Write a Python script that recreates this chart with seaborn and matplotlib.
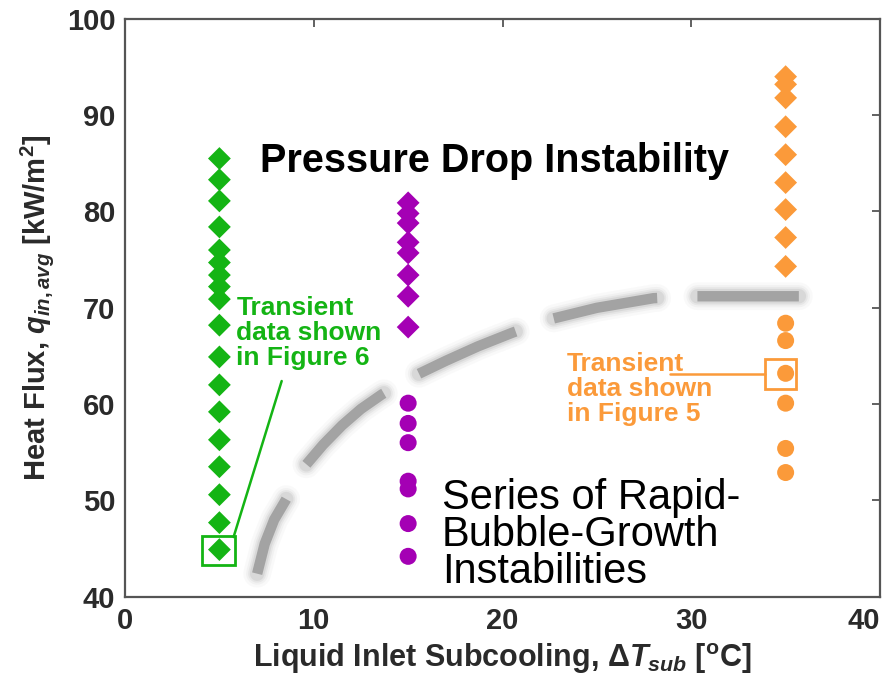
import numpy as np
import pandas as pd
import matplotlib
matplotlib.use("Agg")
import matplotlib.pyplot as plt
import seaborn as sns
from matplotlib.patches import Rectangle

# ---------------- data ----------------
green_dT = 5
green_q_pdi = [85.5, 83.3, 81.1, 78.4, 76.0, 74.7, 73.4, 72.2, 70.9, 68.2,
               64.9, 62.0, 59.2, 56.3, 53.5, 50.6, 47.7, 44.9]
purple_dT = 15
purple_q_pdi = [80.9, 79.8, 78.8, 76.8, 75.7, 73.4, 71.2, 68.0]
purple_q_rbg = [60.1, 58.0, 56.0, 52.0, 51.2, 47.6, 44.2]
orange_dT = 35
orange_q_pdi = [94.0, 93.2, 91.8, 88.8, 85.9, 83.0, 80.2, 77.3, 74.3]
orange_q_rbg = [68.4, 66.6, 63.2, 60.1, 55.4, 52.9]

# boundary (dashed curve)
boundary_dT = [7.0, 7.4, 7.9, 8.5, 9.5, 10.5, 11.5, 12.5, 13.6, 15.3, 17.0,
               18.7, 20.5, 22.5, 25.0, 28.0, 30.2, 35.7]
boundary_q = [42.4, 45.5, 48.0, 50.0, 53.5, 55.8, 57.8, 59.5, 61.0, 62.9, 64.5,
              66.0, 67.4, 68.8, 70.0, 71.0, 71.2, 71.2]

x_ticks = [0, 10, 20, 30, 40]
y_ticks = [40, 50, 60, 70, 80, 90, 100]

GREEN = "#14b414"
PURPLE = "#a400b4"
ORANGE = "#fb9a3a"
GRAY = "#a3a3a3"
DARK = "#2a2a2a"

rows = []
for q in green_q_pdi:
    rows.append(("5", green_dT, q, "PDI"))
for q in purple_q_pdi:
    rows.append(("15", purple_dT, q, "PDI"))
for q in purple_q_rbg:
    rows.append(("15", purple_dT, q, "RBG"))
for q in orange_q_pdi:
    rows.append(("35", orange_dT, q, "PDI"))
for q in orange_q_rbg:
    rows.append(("35", orange_dT, q, "RBG"))
df = pd.DataFrame(rows, columns=["group", "dT", "q", "kind"])

# ---------------- style ----------------
sns.set_theme(style="white")
plt.rcParams["font.family"] = ["Liberation Sans", "DejaVu Sans"]
plt.rcParams["mathtext.fontset"] = "custom"
plt.rcParams["mathtext.rm"] = "Liberation Sans:bold"
plt.rcParams["mathtext.bf"] = "Liberation Sans:bold"
plt.rcParams["mathtext.it"] = "Liberation Sans:italic:bold"
plt.rcParams["mathtext.sf"] = "Liberation Sans:bold"
plt.rcParams["lines.scale_dashes"] = False

fig = plt.figure(figsize=(8.83, 6.98), dpi=100)
ax = fig.add_axes([0.1416, 0.145, 0.855, 0.828])

# dashed boundary with soft shadow
pattern = (18, (76, 29))
for lw, a in [(20, 0.04), (16, 0.06), (13, 0.09), (10.5, 0.12)]:
    ax.plot(boundary_dT, boundary_q, color="#7a7a7a", lw=lw, alpha=a,
            linestyle=pattern, dash_capstyle="round", zorder=1)
ax.plot(boundary_dT, boundary_q, color=GRAY, lw=7.5, linestyle=pattern,
        dash_capstyle="butt", zorder=2)

palette = {"5": GREEN, "15": PURPLE, "35": ORANGE}
sns.scatterplot(data=df[df.kind == "PDI"], x="dT", y="q", hue="group",
                palette=palette, marker="D", s=135, linewidth=0, ax=ax,
                legend=False, zorder=3)
sns.scatterplot(data=df[df.kind == "RBG"], x="dT", y="q", hue="group",
                palette=palette, marker="o", s=150, linewidth=0, ax=ax,
                legend=False, zorder=3)

ax.set_xlim(0, 40)
ax.set_ylim(40, 100)
ax.set_xticks(x_ticks)
ax.set_yticks(y_ticks)
ax.tick_params(direction="in", length=6, width=1.3, color="#555555",
               top=True, right=True, labelsize=21, labelcolor=DARK, pad=7)
for lab in ax.get_xticklabels() + ax.get_yticklabels():
    lab.set_fontweight("bold")
ax.get_xticklabels()[-1].set_horizontalalignment("right")
for sp in ax.spines.values():
    sp.set_color("#555555")
    sp.set_linewidth(1.6)

ax.set_xlabel(r"Liquid Inlet Subcooling, $\Delta\mathit{T}_{sub}$ [$^{\mathrm{o}}$C]",
              fontsize=22, fontweight="bold", color=DARK, labelpad=5)
ax.set_ylabel(r"Heat Flux, $q_{in,avg}$ [kW/m$^{\mathrm{2}}$]",
              fontsize=21, fontweight="bold", color=DARK, labelpad=8)

# annotations
ax.text(19.6, 85.2, "Pressure Drop Instability", fontsize=28.5, fontweight="bold",
        color="black", ha="center", va="center")
ax.text(16.8, 46.4, "Series of Rapid-\nBubble-Growth\nInstabilities", fontsize=30,
        color="black", ha="left", va="center", linespacing=0.9)

ax.text(5.9, 67.4, "Transient\ndata shown\nin Figure 6", fontsize=19, fontweight="bold",
        color=GREEN, ha="left", va="center", linespacing=1.05)
ax.add_patch(Rectangle((4.1, 43.3), 1.7, 3.0, fill=False, ec=GREEN, lw=2, zorder=4))
ax.plot([5.75, 8.3], [46.2, 62.4], color=GREEN, lw=1.8, zorder=4)

ax.text(23.4, 61.6, "Transient\ndata shown\nin Figure 5", fontsize=19, fontweight="bold",
        color=ORANGE, ha="left", va="center", linespacing=1.05)
ax.add_patch(Rectangle((33.9, 61.6), 1.65, 3.1, fill=False, ec=ORANGE, lw=2, zorder=4))
ax.plot([28.9, 33.9], [63.1, 63.1], color=ORANGE, lw=1.8, zorder=4)

fig.savefig("out.png", dpi=100)
